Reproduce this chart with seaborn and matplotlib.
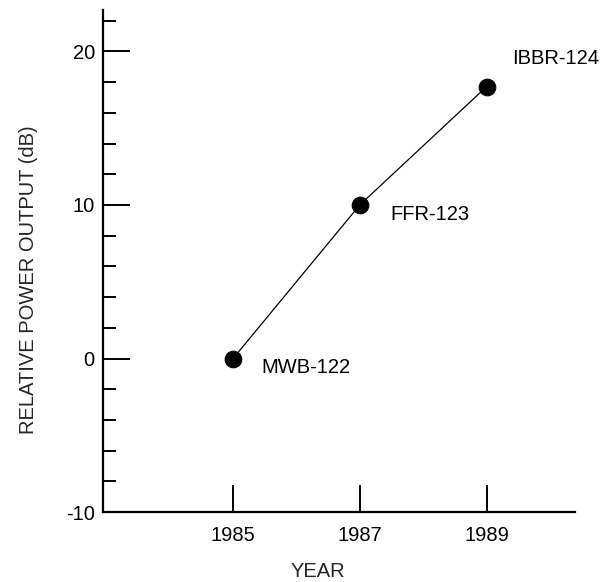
import pandas as pd
import matplotlib
matplotlib.use("Agg")
import matplotlib.pyplot as plt
from matplotlib.ticker import MultipleLocator
import seaborn as sns

# data
years = [1985, 1987, 1989]
power_db = [0.0, 10.0, 17.7]
devices = ["MWB-122", "FFR-123", "IBBR-124"]
# label offsets in pixels (dx, dy) from each point
label_offsets = [(28, -9), (31, -10), (26, 28)]

df = pd.DataFrame({"Year": years, "Power": power_db, "Device": devices})

sns.set_style("ticks")
plt.rcParams['font.family'] = ['Liberation Sans', 'DejaVu Sans']
plt.rcParams['axes.unicode_minus'] = False

fs = 14.5

fig = plt.figure(figsize=(6.03, 5.82), dpi=100)
ax = fig.add_axes([0.171, 0.12, 0.783, 0.863])

sns.lineplot(data=df, x="Year", y="Power", ax=ax, color="black",
             linewidth=0.9, marker="o", markersize=12,
             markeredgecolor="black", markerfacecolor="black")

# device labels next to each point
for (x, y, name), (dx, dy) in zip(zip(years, power_db, devices),
                                  label_offsets):
    ax.annotate(name, (x, y), xytext=(dx, dy), textcoords="offset pixels",
                ha="left", va="center", fontsize=fs, color="black")

ax.set_xlim(1982.95, 1990.4)
ax.set_ylim(-10, 22.7)
ax.set_xticks(years)
ax.yaxis.set_major_locator(MultipleLocator(10))
ax.yaxis.set_minor_locator(MultipleLocator(2))

sns.despine(ax=ax)
for side in ["left", "bottom"]:
    ax.spines[side].set_linewidth(1.6)
    ax.spines[side].set_color("black")

ax.tick_params(axis="both", which="major", direction="in", length=19.5,
               width=1.4, labelsize=fs, colors="black")
ax.tick_params(axis="y", which="minor", direction="in", length=9.5,
               width=1.4, colors="black")
ax.tick_params(axis="x", which="major", pad=10)
ax.tick_params(axis="y", which="major", pad=6)

ax.set_xlabel("YEAR", fontsize=fs)
ax.set_ylabel("RELATIVE POWER OUTPUT (dB)", fontsize=fs)
ax.xaxis.label.set_verticalalignment("center")
ax.xaxis.set_label_coords(0.455, -0.119)
ax.yaxis.set_label_coords(-0.138, 0.462)

plt.savefig("out.png", dpi=100)
